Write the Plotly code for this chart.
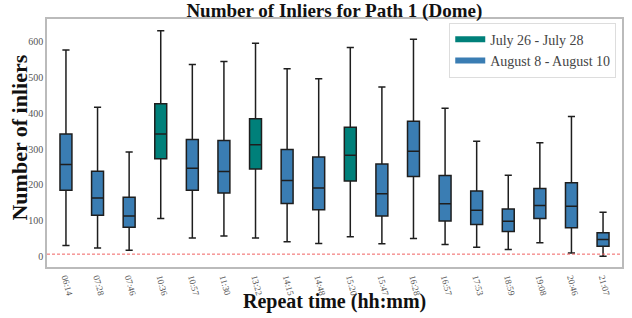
import plotly.graph_objects as go

times = ["06:14", "07:28", "07:46", "10:36", "10:57", "11:30", "13:22", "14:15", "14:48",
         "15:20", "15:47", "16:28", "16:57", "17:53", "18:59", "19:08", "20:46", "21:07"]
period = ["B", "B", "B", "T", "B", "B", "T", "B", "B", "T", "B", "B", "B", "B", "B", "B", "B", "B"]
lower = [30, 23, 17, 106, 51, 57, 51, 41, 36, 55, 35, 50, 33, 25, 19, 38, 9, 0]
q1 = [185, 115, 81, 273, 185, 177, 244, 148, 130, 211, 113, 223, 99, 89, 69, 106, 80, 28]
median = [257, 163, 113, 342, 246, 237, 312, 212, 191, 283, 175, 294, 147, 129, 98, 142, 140, 47]
q3 = [342, 238, 165, 427, 327, 324, 385, 299, 278, 361, 258, 378, 226, 183, 132, 190, 206, 66]
upper = [577, 417, 292, 631, 537, 545, 596, 525, 497, 584, 474, 607, 414, 322, 227, 318, 391, 123]
threshold = 6
legend_names = {"T": "July 26 - July 28", "B": "August 8 - August 10"}
colors = {"T": "#00807a", "B": "#3a7db3"}

fig = go.Figure()
for key in ["T", "B"]:
    idx = [i for i, p in enumerate(period) if p == key]
    fig.add_trace(go.Box(
        x=[times[i] for i in idx],
        q1=[q1[i] for i in idx],
        median=[median[i] for i in idx],
        q3=[q3[i] for i in idx],
        lowerfence=[lower[i] for i in idx],
        upperfence=[upper[i] for i in idx],
        fillcolor=colors[key],
        line=dict(color="#1e1e1e", width=1.5),
        whiskerwidth=0.6,
        boxpoints=False,
        showlegend=False,
        hoverinfo="skip",
    ))

for key in ["T", "B"]:
    fig.add_trace(go.Scatter(
        x=[None], y=[None], mode="lines",
        line=dict(color=colors[key], width=6),
        name=legend_names[key],
    ))

fig.add_shape(type="line", xref="paper", x0=0, x1=1, yref="y", y0=threshold, y1=threshold,
              line=dict(color="#f06060", width=1, dash="3px,2px"))

serif = "Liberation Serif, DejaVu Serif, serif"
fig.update_layout(
    width=632, height=318,
    margin=dict(l=47, r=10, t=19, b=51, autoexpand=False),
    paper_bgcolor="white", plot_bgcolor="white",
    boxmode="overlay", boxgap=0.46,
    hovermode=False,
    title=dict(text="<b>Number of Inliers for Path 1 (Dome)</b>", x=0.529, xanchor="center",
               y=0.966, yanchor="middle", font=dict(family=serif, size=19, color="#111")),
    font=dict(family=serif),
    legend=dict(x=0.99, y=0.985, xanchor="right", yanchor="top",
                bgcolor="white", bordercolor="#dddddd", borderwidth=1,
                font=dict(family=serif, size=14, color="#444"),
                tracegroupgap=2, itemwidth=30),
    xaxis=dict(categoryorder="array", categoryarray=times, tickangle=75,
               tickfont=dict(family=serif, size=9, color="#555"),
               showline=True, mirror=True, linecolor="#bbbbbb", linewidth=1.5,
               showgrid=False, ticks="", range=[-0.6, 17.6]),
    yaxis=dict(range=[-30, 664], tickvals=[0, 100, 200, 300, 400, 500, 600],
               tickfont=dict(family=serif, size=10, color="#555"),
               showline=True, mirror=True, linecolor="#bbbbbb", linewidth=1.5,
               showgrid=False, zeroline=False, ticks=""),
    annotations=[
        dict(text="<b>Repeat time (hh:mm)</b>", xref="paper", yref="paper",
             x=0.5, y=-0.141, xanchor="center", yanchor="middle", showarrow=False,
             font=dict(family=serif, size=20, color="#111")),
        dict(text="<b>Number of inliers</b>", xref="paper", yref="paper",
             x=-0.047, y=0.522, xanchor="center", yanchor="middle", showarrow=False,
             textangle=-90, font=dict(family=serif, size=22, color="#111")),
    ],
)

fig.write_html("out.html", config={"displayModeBar": False},
               post_script="document.body.style.margin='0';document.body.style.overflow='hidden';")
